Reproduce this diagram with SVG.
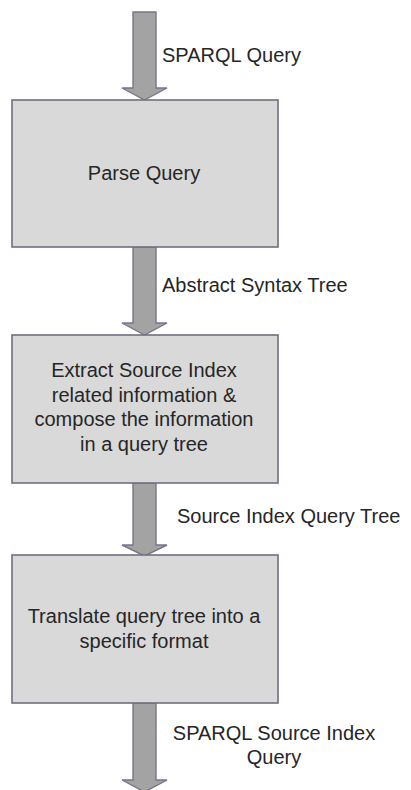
<svg xmlns="http://www.w3.org/2000/svg" width="411" height="790" viewBox="0 0 411 790">
<style>
.box{fill:#d9d9d9;stroke:#6f6f80;stroke-width:1.6}
.arr{fill:#a3a3a3;stroke:#76768a;stroke-width:1.4;stroke-linejoin:miter}
text{font-family:"Liberation Sans",Arial,sans-serif;font-size:20px;fill:#262626}
.c{text-anchor:middle}
</style>
<rect width="411" height="790" fill="#ffffff"/>
<g id="connectors">
<polygon class="arr" points="133,12 156,12 156,88 167,88 144.5,100 122,88 133,88"/>
<polygon class="arr" points="133,247 156,247 156,323 167,323 144.5,335 122,323 133,323"/>
<polygon class="arr" points="133,483 156,483 156,545 167,545 144.5,556 122,545 133,545"/>
<polygon class="arr" points="133,703 156,703 156,780 167,780 144.5,792 122,780 133,780"/>
<text x="162" y="62">SPARQL Query</text>
<text x="162" y="292">Abstract Syntax Tree</text>
<text x="177" y="523">Source Index Query Tree</text>
<text class="c" x="274" y="740">SPARQL Source Index</text>
<text class="c" x="274" y="764">Query</text>
</g>
<g id="parse-query">
<rect class="box" x="12" y="100" width="266" height="147"/>
<text class="c" x="144" y="180">Parse Query</text>
</g>
<g id="extract-source-index">
<rect class="box" x="12" y="335" width="266" height="148"/>
<text class="c" x="144" y="377">Extract Source Index</text>
<text class="c" x="144" y="401.5">related information &amp;</text>
<text class="c" x="144" y="426">compose the information</text>
<text class="c" x="144" y="450.5">in a query tree</text>
</g>
<g id="translate-query-tree">
<rect class="box" x="12" y="555" width="266" height="148"/>
<text class="c" x="144" y="623">Translate query tree into a</text>
<text class="c" x="144" y="647.5">specific format</text>
</g>
</svg>
